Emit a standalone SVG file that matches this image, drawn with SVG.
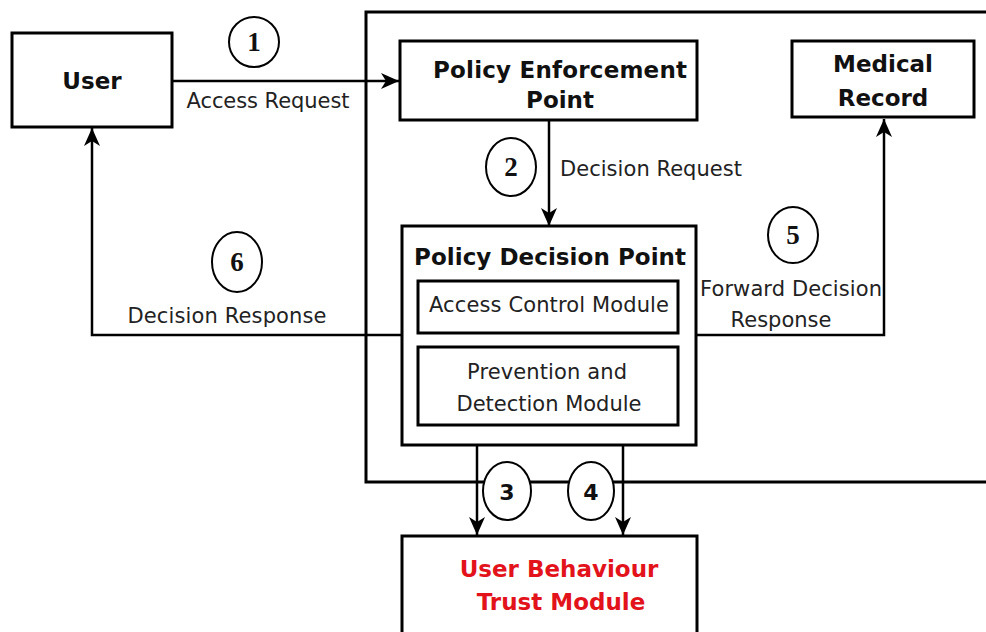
<svg xmlns="http://www.w3.org/2000/svg" width="986" height="632" viewBox="0 0 986 632">
  <style>
    .box { fill: #ffffff; stroke: #000000; stroke-width: 3; }
    .frame { fill: none; stroke: #000000; stroke-width: 3; }
    .conn { fill: none; stroke: #000000; stroke-width: 2.5; }
    .badge { fill: #ffffff; stroke: #000000; stroke-width: 2; }
    .title { font-family: "DejaVu Sans", Verdana, sans-serif; font-weight: bold; font-size: 23px; fill: #111111; text-anchor: middle; }
    .label { font-family: "DejaVu Sans", Verdana, sans-serif; font-size: 21px; fill: #222222; }
    .mid { text-anchor: middle; }
    .num { font-family: "Liberation Serif", "Times New Roman", serif; font-weight: bold; font-size: 27px; fill: #111111; text-anchor: middle; }
    .num-sans { font-family: "DejaVu Sans", Verdana, sans-serif; font-weight: bold; font-size: 22px; fill: #111111; text-anchor: middle; }
    .red { fill: #e3131b; }
  </style>
  <defs>
    <marker id="arrow" markerUnits="userSpaceOnUse" markerWidth="20" markerHeight="18" viewBox="-19 -9 20 18" refX="0" refY="0" orient="auto">
      <path d="M0,0 L-18,-8 L-13,0 L-18,8 Z" fill="#000000"/>
    </marker>
  </defs>

  <rect width="986" height="632" fill="#ffffff"/>

  <!-- system boundary (open on the right) -->
  <path class="frame" d="M986,12 H366 V482 H986"/>

  <!-- connectors -->
  <g id="connectors">
    <path class="conn" d="M172,81 H399" marker-end="url(#arrow)"/>
    <path class="conn" d="M549,120 V226" marker-end="url(#arrow)"/>
    <path class="conn" d="M477,445 V535" marker-end="url(#arrow)"/>
    <path class="conn" d="M623,445 V535" marker-end="url(#arrow)"/>
    <path class="conn" d="M695,335 H884 V119" marker-end="url(#arrow)"/>
    <path class="conn" d="M401,335 H92 V128" marker-end="url(#arrow)"/>
  </g>

  <!-- nodes -->
  <g id="user">
    <rect class="box" x="12" y="33" width="160" height="94"/>
    <text class="title" x="92" y="89">User</text>
  </g>

  <g id="pep">
    <rect class="box" x="400" y="41" width="297" height="79"/>
    <text class="title" x="560" y="78" textLength="254">Policy Enforcement</text>
    <text class="title" x="560" y="108">Point</text>
  </g>

  <g id="medical-record">
    <rect class="box" x="792" y="41" width="182" height="76"/>
    <text class="title" x="883" y="72">Medical</text>
    <text class="title" x="883" y="106">Record</text>
  </g>

  <g id="pdp">
    <rect class="box" x="402" y="226" width="294" height="219"/>
    <text class="title" x="550" y="265" textLength="272">Policy Decision Point</text>
    <g id="access-control-module">
      <rect class="box" x="418" y="281" width="260" height="52"/>
      <text class="label mid" x="549" y="312" textLength="240">Access Control Module</text>
    </g>
    <g id="prevention-detection-module">
      <rect class="box" x="418" y="347" width="260" height="78"/>
      <text class="label mid" x="547" y="379" textLength="160">Prevention and</text>
      <text class="label mid" x="549" y="411" textLength="185">Detection Module</text>
    </g>
  </g>

  <g id="ubtm">
    <rect class="box" x="402" y="536" width="295" height="110"/>
    <text class="title red" x="559" y="577">User Behaviour</text>
    <text class="title red" x="561" y="610">Trust Module</text>
  </g>

  <!-- step labels -->
  <g id="step-1">
    <ellipse class="badge" cx="254" cy="42" rx="25" ry="25"/>
    <text class="num" x="254" y="51">1</text>
    <text class="label mid" x="268" y="108" textLength="163">Access Request</text>
  </g>
  <g id="step-2">
    <ellipse class="badge" cx="511" cy="167" rx="25" ry="29"/>
    <text class="num" x="511" y="176">2</text>
    <text class="label" x="560" y="176" textLength="182">Decision Request</text>
  </g>
  <g id="step-3">
    <ellipse class="badge" cx="507" cy="491" rx="24" ry="29"/>
    <text class="num-sans" x="507" y="500">3</text>
  </g>
  <g id="step-4">
    <ellipse class="badge" cx="591" cy="491" rx="23" ry="29"/>
    <text class="num-sans" x="591" y="500">4</text>
  </g>
  <g id="step-5">
    <ellipse class="badge" cx="793" cy="235" rx="25" ry="28"/>
    <text class="num" x="793" y="244">5</text>
    <text class="label" x="700" y="296" textLength="182">Forward Decision</text>
    <text class="label mid" x="781" y="327">Response</text>
  </g>
  <g id="step-6">
    <ellipse class="badge" cx="237" cy="262" rx="25" ry="30"/>
    <text class="num" x="237" y="271">6</text>
    <text class="label mid" x="227" y="323" textLength="199">Decision Response</text>
  </g>
</svg>
